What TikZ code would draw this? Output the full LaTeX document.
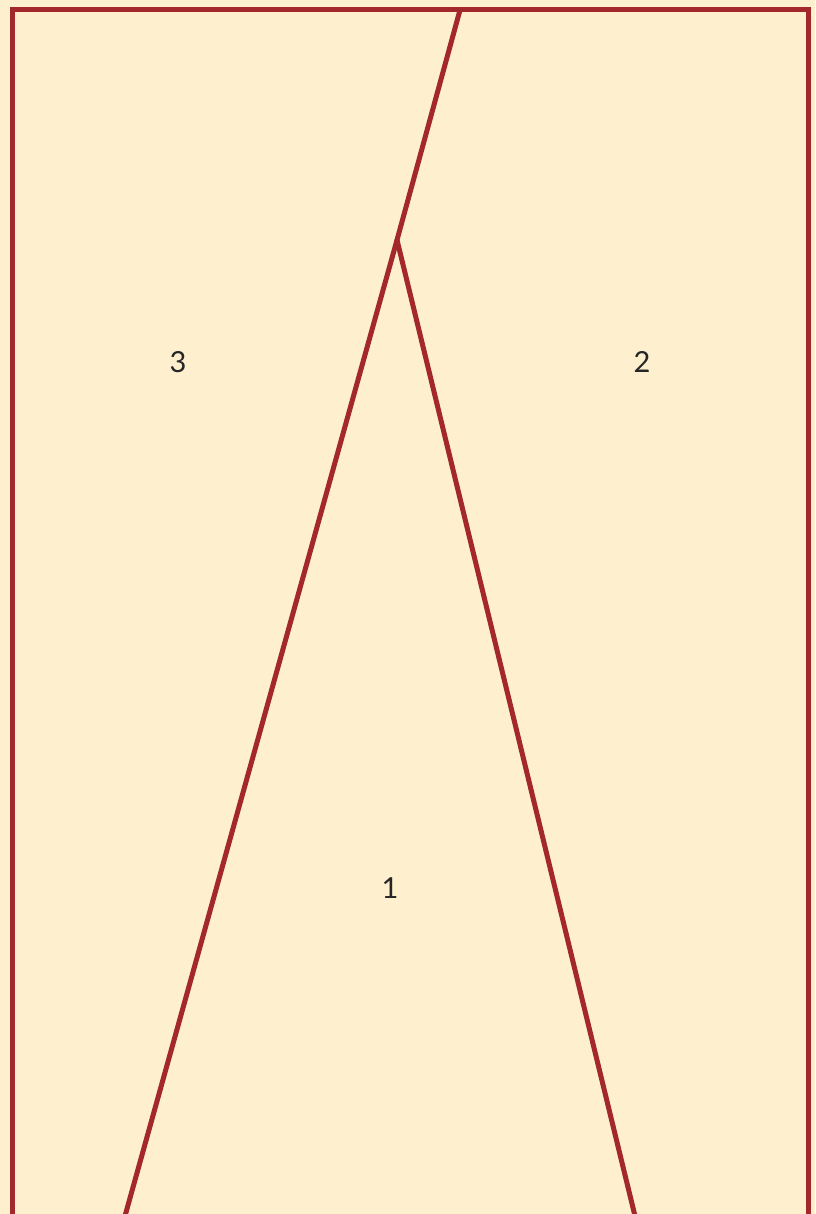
\documentclass[tikz,border=0pt]{standalone}
\usepackage{fontspec}
\setmainfont{Lato}
\usepackage{tikz}
\usetikzlibrary{calc,positioning}
\definecolor{brown}{HTML}{A3282A}
\definecolor{creambg}{HTML}{FEF0CE}
\tikzset{edge/.style={brown,line width=5pt,line cap=round,line join=round},
  region/.style={font=\fontsize{29}{32}\selectfont,text=black!85}}
\begin{document}
\begin{tikzpicture}[x=1pt,y=-1pt]
\useasboundingbox (0,0) rectangle (815,1214);
\fill[creambg] (0,0) rectangle (815,1214);
\draw[brown,line width=5pt] (12,10) rectangle (808,1216);
\coordinate (top) at (460,10);
\coordinate (apex) at (397,240);
\coordinate (bl) at (125,1216);
\coordinate (br) at (635,1216);
\draw[edge] (top)--(apex)--(bl);
\draw[edge] (apex)--(br);
\node[region] (r3) at (178,362){3};
\node[region] (r2) at (642,362){2};
\node[region] (r1) at (390,888){1};
\end{tikzpicture}
\end{document}
